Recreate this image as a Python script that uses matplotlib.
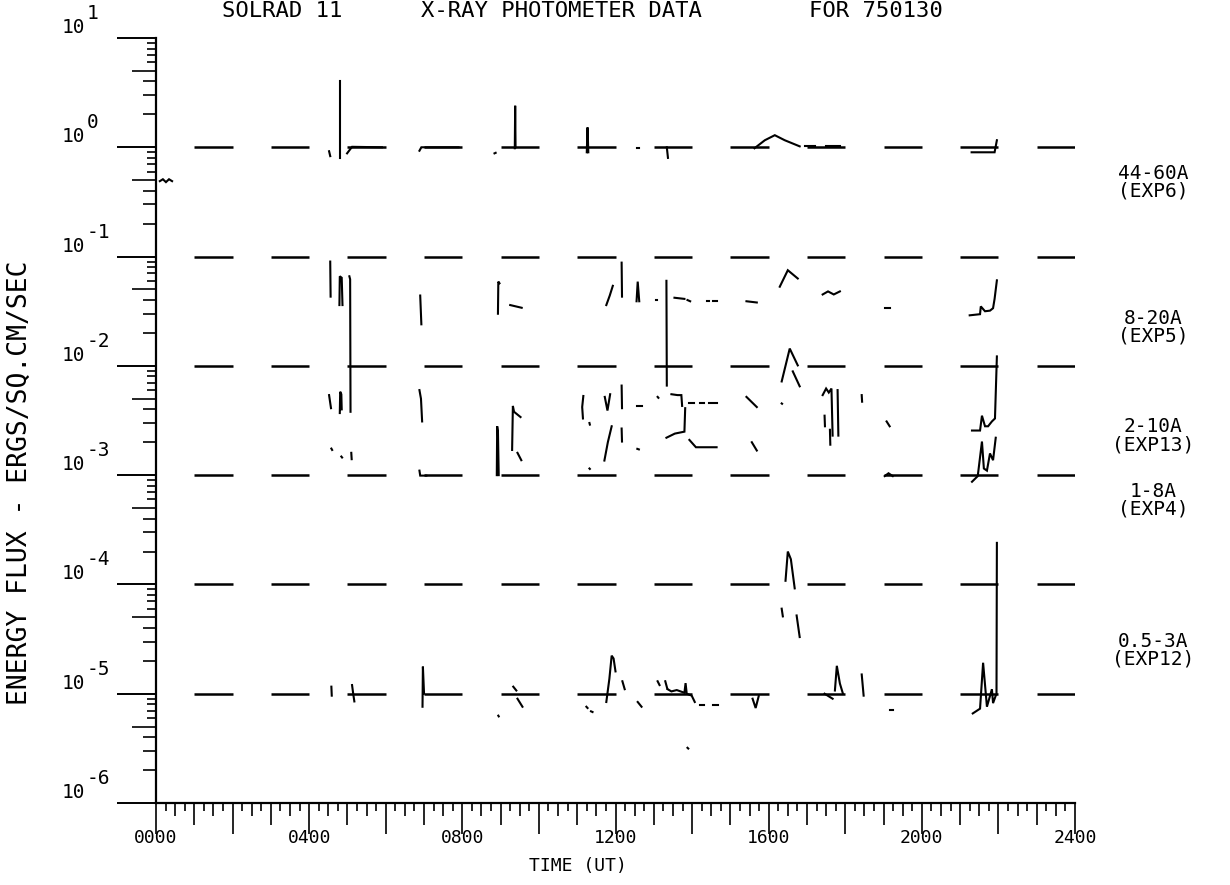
import matplotlib
matplotlib.use("Agg")
import matplotlib.pyplot as plt

FONT = "DejaVu Sans Mono"
plt.rcParams["font.family"] = [FONT, "DejaVu Sans"]

# ---- axis annotation --------------------------------------------------------
HOUR_TICKS = [0, 4, 8, 12, 16, 20, 24]
HOUR_LABELS = ["0000", "0400", "0800", "1200", "1600", "2000", "2400"]
DECADE_VALUES = [1e-6, 1e-5, 1e-4, 1e-3, 1e-2, 1e-1, 1e0, 1e1]
DECADE_EXPONENTS = ["-6", "-5", "-4", "-3", "-2", "-1", "0", "1"]

# reference levels with a dash over every odd hour
REFERENCE_LEVELS = [1e0, 1e-1, 1e-2, 1e-3, 1e-4, 1e-5]
DASH_START_HOURS = [1, 3, 5, 7, 9, 11, 13, 15, 17, 19, 21, 23]

CHANNEL_NAMES = ["44-60A\n(EXP6)", "8-20A\n(EXP5)", "2-10A\n(EXP13)",
                 "1-8A\n(EXP4)", "0.5-3A\n(EXP12)"]
CHANNEL_LABEL_FLUX = [0.478, 0.0225, 0.00228, 5.9e-4, 2.5e-5]

# ---- photometer fragments: UT hours / flux (erg cm^-2 s^-1) ----------------
EXP6_TIMES = [
    [0.10, 0.18, 0.26, 0.34, 0.42],
    [4.52, 4.55],
    [4.80, 4.80],
    [4.99, 5.12, 5.90],
    [6.88, 6.93, 7.90],
    [8.84, 8.87],
    [9.37, 9.38, 9.39],
    [11.25, 11.27, 11.29],
    [12.57, 12.62],
    [13.34, 13.37],
    [15.63, 15.90, 16.16, 16.42, 16.81],
    [16.95, 17.20],
    [17.50, 17.85],
    [21.30, 21.90, 21.96],
]
EXP6_FLUX = [
    [0.49, 0.51, 0.48, 0.51, 0.49],
    [0.92, 0.83],
    [0.79, 4.0],
    [0.88, 1.01, 1.0],
    [0.93, 1.0, 1.0],
    [0.88, 0.89],
    [0.98, 2.4, 1.0],
    [0.90, 1.52, 0.90],
    [0.98, 0.98],
    [1.0, 0.80],
    [0.98, 1.16, 1.29, 1.16, 1.02],
    [1.03, 1.03],
    [1.02, 1.02],
    [0.90, 0.90, 1.16],
]

EXP5_TIMES = [
    [4.55, 4.56],
    [4.79, 4.80, 4.85, 4.87],
    [5.05, 5.07, 5.08],
    [6.90, 6.93],
    [8.93, 8.94, 8.97],
    [9.25, 9.55],
    [11.76, 11.85, 11.93],
    [12.16, 12.17],
    [12.55, 12.58, 12.62],
    [13.06, 13.08],
    [13.33, 13.34],
    [13.54, 13.80],
    [13.88, 13.95],
    [14.38, 14.45],
    [14.55, 14.64],
    [15.42, 15.69],
    [16.29, 16.50, 16.76],
    [17.41, 17.55, 17.70, 17.86],
    [19.03, 19.16],
    [21.25, 21.52, 21.54, 21.65, 21.78, 21.86, 21.90, 21.96],
]
EXP5_FLUX = [
    [0.090, 0.043],
    [0.036, 0.066, 0.064, 0.036],
    [0.066, 0.062, 0.0038],
    [0.044, 0.024],
    [0.030, 0.059, 0.057],
    [0.036, 0.034],
    [0.036, 0.044, 0.054],
    [0.088, 0.043],
    [0.039, 0.059, 0.039],
    [0.040, 0.040],
    [0.060, 0.0066],
    [0.042, 0.041],
    [0.040, 0.039],
    [0.039, 0.039],
    [0.039, 0.039],
    [0.039, 0.038],
    [0.053, 0.075, 0.063],
    [0.045, 0.048, 0.045, 0.048],
    [0.034, 0.034],
    [0.029, 0.0297, 0.035, 0.0316, 0.032, 0.0337, 0.041, 0.0606],
]

EXP13_TIMES = [
    [4.52, 4.57],
    [4.80, 4.81, 4.84, 4.85],
    [6.88, 6.92, 6.95],
    [4.58, 4.60],
    [4.84, 4.86],
    [5.10, 5.11],
    [6.88, 6.90, 7.06],
    [8.90, 8.91, 8.93, 8.95],
    [9.30, 9.32, 9.35, 9.52],
    [9.44, 9.54],
    [11.16, 11.13, 11.15],
    [11.32, 11.33],
    [11.72, 11.79, 11.86],
    [12.16, 12.17],
    [12.55, 12.68],
    [13.10, 13.12],
    [13.46, 13.62, 13.72, 13.74],
    [13.33, 13.55, 13.80, 13.82],
    [13.93, 14.05],
    [14.20, 14.30],
    [14.45, 14.64],
    [13.93, 14.10, 14.40, 14.64],
    [11.71, 11.80, 11.90],
    [12.16, 12.17],
    [12.57, 12.61],
    [11.32, 11.33],
    [15.42, 15.69],
    [15.56, 15.69],
    [16.34, 16.35],
    [16.34, 16.55, 16.76],
    [16.63, 16.81],
    [17.41, 17.50, 17.57, 17.64, 17.67],
    [17.80, 17.82],
    [17.46, 17.47],
    [17.60, 17.61],
    [18.43, 18.44],
    [19.08, 19.16],
    [19.03, 19.13, 19.24],
    [21.31, 21.52, 21.57, 21.65, 21.73, 21.83, 21.91, 21.96],
    [21.31, 21.46, 21.57, 21.62, 21.70, 21.78, 21.86, 21.93],
]
EXP13_FLUX = [
    [0.0054, 0.0041],
    [0.0037, 0.0058, 0.0055, 0.0040],
    [0.0060, 0.0050, 0.0031],
    [0.00175, 0.0017],
    [0.00148, 0.00145],
    [0.0016, 0.0014],
    [0.0011, 0.00099, 0.00099],
    [0.0010, 0.0028, 0.0025, 0.0010],
    [0.0017, 0.0043, 0.0038, 0.0034],
    [0.0016, 0.00137],
    [0.0053, 0.0042, 0.0033],
    [0.0030, 0.0029],
    [0.0052, 0.0039, 0.0055],
    [0.0066, 0.0041],
    [0.0043, 0.0043],
    [0.0052, 0.0051],
    [0.0055, 0.0054, 0.0054, 0.0043],
    [0.0022, 0.0024, 0.0025, 0.0041],
    [0.0046, 0.0046],
    [0.0046, 0.0046],
    [0.0046, 0.0046],
    [0.0021, 0.0018, 0.0018, 0.0018],
    [0.00136, 0.0020, 0.0028],
    [0.00267, 0.00203],
    [0.00174, 0.00172],
    [0.00115, 0.00114],
    [0.0052, 0.0042],
    [0.0020, 0.00168],
    [0.00453, 0.0045],
    [0.0072, 0.0144, 0.0101],
    [0.0089, 0.0065],
    [0.0054, 0.0062, 0.0057, 0.0062, 0.0023],
    [0.0060, 0.0023],
    [0.0035, 0.0028],
    [0.0026, 0.0019],
    [0.0054, 0.0047],
    [0.0031, 0.0028],
    [0.00098, 0.00104, 0.00098],
    [0.00256, 0.00256, 0.0035, 0.0028, 0.0028, 0.0031, 0.0033, 0.0122],
    [0.00087, 0.00098, 0.00203, 0.00115, 0.0011, 0.00158, 0.00137, 0.0022],
]

EXP4_TIMES = [
    [16.44, 16.50, 16.58, 16.68],
    [16.34, 16.37],
    [16.73, 16.81],
    [21.95, 21.96],
]
EXP4_FLUX = [
    [1.08e-4, 2.0e-4, 1.7e-4, 9.2e-5],
    [6.0e-5, 5.1e-5],
    [5.2e-5, 3.3e-5],
    [1.0e-5, 2.4e-4],
]

EXP12_TIMES = [
    [4.58, 4.59],
    [5.12, 5.15, 5.18],
    [6.96, 6.97, 7.00],
    [9.33, 9.41],
    [9.44, 9.57],
    [8.94, 8.95],
    [11.24, 11.27],
    [11.36, 11.40],
    [11.76, 11.84, 11.90, 11.95, 12.00],
    [12.18, 12.24],
    [12.58, 12.68],
    [13.10, 13.15],
    [13.36, 13.46, 13.60, 13.80, 13.83, 13.86, 13.99, 14.07],
    [13.30, 13.35],
    [13.88, 13.90],
    [14.20, 14.30],
    [14.55, 14.67],
    [15.58, 15.66, 15.74],
    [17.46, 17.67],
    [17.73, 17.78, 17.86, 17.94],
    [18.43, 18.48],
    [19.16, 19.24],
    [21.33, 21.52, 21.60, 21.70, 21.83, 21.86, 21.93],
]
EXP12_FLUX = [
    [1.16e-5, 9.6e-6],
    [1.2e-5, 1.0e-5, 8.5e-6],
    [7.6e-6, 1.77e-5, 1.0e-5],
    [1.16e-5, 1.07e-5],
    [9.0e-6, 7.6e-6],
    [6.3e-6, 6.2e-6],
    [7.6e-6, 7.4e-6],
    [6.9e-6, 6.8e-6],
    [8.4e-6, 1.37e-5, 2.23e-5, 2.1e-5, 1.6e-5],
    [1.3e-5, 1.1e-5],
    [8.4e-6, 7.6e-6],
    [1.3e-5, 1.2e-5],
    [1.1e-5, 1.05e-5, 1.08e-5, 1.02e-5, 1.25e-5, 1.0e-5, 9.6e-6, 8.4e-6],
    [1.3e-5, 1.12e-5],
    [3.2e-6, 3.15e-6],
    [7.9e-6, 7.9e-6],
    [7.9e-6, 7.9e-6],
    [9.0e-6, 7.4e-6, 9.5e-6],
    [1.0e-5, 9.0e-6],
    [1.07e-5, 1.8e-5, 1.24e-5, 1.0e-5],
    [1.5e-5, 9.6e-6],
    [7.1e-6, 7.1e-6],
    [6.6e-6, 7.3e-6, 1.92e-5, 7.6e-6, 1.1e-5, 8.2e-6, 9.6e-6],
]

# ---- figure -----------------------------------------------------------------
W, H = 1230, 885
PT = 72 / 100  # points per pixel at 100 dpi
fig = plt.figure(figsize=(W / 100, H / 100), dpi=100)
fig.patch.set_facecolor("white")
AX_LEFT, AX_RIGHT, AX_BOTTOM, AX_TOP = 156, 1075, 803, 38
ax = fig.add_axes([AX_LEFT / W, 1 - AX_BOTTOM / H,
                   (AX_RIGHT - AX_LEFT) / W, (AX_BOTTOM - AX_TOP) / H])
ax.set_yscale("log")
ax.set_xlim(0, 24)
ax.set_ylim(1e-6, 1e1)
for side in ("top", "right"):
    ax.spines[side].set_visible(False)
for side in ("left", "bottom"):
    ax.spines[side].set_linewidth(1.6)
    ax.spines[side].set_color("black")
ax.set_xticks([])
ax.set_yticks([])
ax.minorticks_off()

INK = "black"
px_w = AX_RIGHT - AX_LEFT
px_h = AX_BOTTOM - AX_TOP
ytrans = ax.get_yaxis_transform()
xtrans = ax.get_xaxis_transform()

# y-axis tick marks, drawn outward to the left
for dec in DECADE_VALUES:
    ax.plot([-39 / px_w, 0], [dec, dec], transform=ytrans, color=INK,
            lw=1.4, clip_on=False, solid_capstyle="butt")
    if dec < 10:
        for m in range(2, 10):
            L = 24 if m == 5 else (13 if m < 5 else 9)
            ax.plot([-L / px_w, 0], [m * dec, m * dec], transform=ytrans,
                    color=INK, lw=1.2, clip_on=False, solid_capstyle="butt")

# y-axis decade labels: base with a full-size raised exponent
for dec, ex in zip(DECADE_VALUES, DECADE_EXPONENTS):
    ax.annotate("10", xy=(0, dec), xycoords=("axes fraction", "data"),
                xytext=(-71 * PT, 1 * PT), textcoords="offset points",
                ha="right", va="bottom", fontsize=14, family=FONT)
    ax.annotate(ex, xy=(0, dec), xycoords=("axes fraction", "data"),
                xytext=(-69 * PT, 15 * PT), textcoords="offset points",
                ha="left", va="bottom", fontsize=14, family=FONT)

# x-axis tick marks, every 15 minutes
for q in range(0, 24 * 4 + 1):
    h = q / 4
    if q % 8 == 0:
        L = 31
    elif q % 4 == 0:
        L = 22
    elif q % 2 == 0:
        L = 13
    else:
        L = 8
    ax.plot([h, h], [0, -L / px_h], transform=xtrans, color=INK, lw=1.2,
            clip_on=False, solid_capstyle="butt")

for h, lab in zip(HOUR_TICKS, HOUR_LABELS):
    ax.annotate(lab, xy=(h, 0), xycoords=("data", "axes fraction"),
                xytext=(0, -26 * PT), textcoords="offset points",
                ha="center", va="top", fontsize=13, family=FONT)

# reference dashes
for lvl in REFERENCE_LEVELS:
    for h0 in DASH_START_HOURS:
        ax.plot([h0, h0 + 1], [lvl, lvl], color=INK, lw=1.8,
                solid_capstyle="butt")

# photometer traces
for times, fluxes in ((EXP6_TIMES, EXP6_FLUX), (EXP5_TIMES, EXP5_FLUX),
                      (EXP13_TIMES, EXP13_FLUX), (EXP4_TIMES, EXP4_FLUX),
                      (EXP12_TIMES, EXP12_FLUX)):
    for t, f in zip(times, fluxes):
        ax.plot(t, f, color=INK, lw=1.5, solid_joinstyle="miter")

# channel names at the right
for name, lvl in zip(CHANNEL_NAMES, CHANNEL_LABEL_FLUX):
    ax.annotate(name, xy=(1, lvl), xycoords=("axes fraction", "data"),
                xytext=(78 * PT, 0), textcoords="offset points",
                ha="center", va="center", multialignment="center",
                fontsize=14, family=FONT, linespacing=0.95)

# titles
TITLE_Y = 1 - 17 / H
fig.text(282 / W, TITLE_Y, "SOLRAD 11", ha="center", va="baseline",
         fontsize=16, family=FONT)
fig.text(561 / W, TITLE_Y, "X-RAY PHOTOMETER DATA", ha="center",
         va="baseline", fontsize=16, family=FONT)
fig.text(876 / W, TITLE_Y, "FOR 750130", ha="center", va="baseline",
         fontsize=16, family=FONT)
fig.text(578 / W, 1 - 866 / H, "TIME (UT)", ha="center", va="center",
         fontsize=13, family=FONT)
fig.text(20 / W, 1 - 483 / H, "ENERGY FLUX - ERGS/SQ.CM/SEC", ha="center",
         va="center", rotation=90, fontsize=19, family=FONT)

fig.savefig("out.png", dpi=100, facecolor="white")
